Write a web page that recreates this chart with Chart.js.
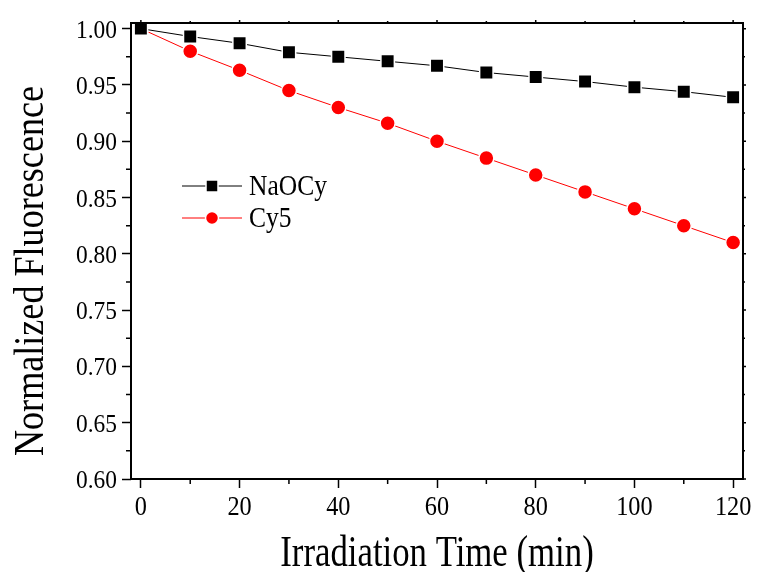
<!DOCTYPE html>
<html>
<head>
<meta charset="utf-8">
<script src="https://cdn.jsdelivr.net/npm/chart.js@4"></script>
<style>
  body { margin: 0; background: #fff; }
  #wrap { width: 758px; height: 572px; }
</style>
</head>
<body>
<div id="wrap"><canvas id="grafico" width="758" height="572"></canvas></div>
<script>
// irradiation time (min)
const tempos = [0, 10, 20, 30, 40, 50, 60, 70, 80, 90, 100, 110, 120];
// normalized fluorescence
const naocy = [1.000, 0.993, 0.987, 0.979, 0.975, 0.971, 0.967, 0.961, 0.957, 0.953, 0.948, 0.944, 0.939];
const cy5 = [1.000, 0.980, 0.963, 0.945, 0.930, 0.916, 0.900, 0.885, 0.870, 0.855, 0.840, 0.825, 0.810];
const xTicks = [0, 20, 40, 60, 80, 100, 120];
const xMinor = [10, 30, 50, 70, 90, 110];
const yTicks = [0.60, 0.65, 0.70, 0.75, 0.80, 0.85, 0.90, 0.95, 1.00];
const yMinor = [0.625, 0.675, 0.725, 0.775, 0.825, 0.875, 0.925, 0.975];
const tituloX = 'Irradiation Time (min)';
const tituloY = 'Normalized Fluorescence';

const serif = "'Liberation Serif', 'Times New Roman', serif";

// texto estreito (fonte do original e condensada)
const texto = (ctx, str, x, y, size, sx, align, rot) => {
  ctx.save();
  ctx.translate(x, y);
  if (rot) ctx.rotate(rot);
  ctx.scale(sx, 1);
  ctx.font = size + 'px ' + serif;
  ctx.fillStyle = '#000';
  ctx.textAlign = align;
  ctx.textBaseline = 'alphabetic';
  ctx.fillText(str, 0, 0);
  ctx.restore();
};

// moldura, ticks menores, rotulos e titulos
const molduraPlugin = {
  id: 'moldura',
  afterDraw(chart) {
    const { ctx, chartArea: a, scales } = chart;
    ctx.save();
    ctx.strokeStyle = '#000';
    ctx.lineWidth = 2;
    ctx.strokeRect(a.left, a.top, a.right - a.left, a.bottom - a.top);
    ctx.lineWidth = 1.5;
    ctx.beginPath();
    xMinor.forEach(v => {
      const px = scales.x.getPixelForValue(v);
      ctx.moveTo(px, a.bottom); ctx.lineTo(px, a.bottom + 5);
      ctx.moveTo(px, a.top); ctx.lineTo(px, a.top - 2);
    });
    xTicks.forEach(v => {
      const px = scales.x.getPixelForValue(v);
      ctx.moveTo(px, a.top); ctx.lineTo(px, a.top - 3);
    });
    yMinor.forEach(v => {
      const py = scales.y.getPixelForValue(v);
      ctx.moveTo(a.left, py); ctx.lineTo(a.left - 5, py);
      ctx.moveTo(a.right, py); ctx.lineTo(a.right + 2, py);
    });
    yTicks.forEach(v => {
      const py = scales.y.getPixelForValue(v);
      ctx.moveTo(a.right, py); ctx.lineTo(a.right + 3, py);
    });
    ctx.stroke();
    ctx.restore();

    xTicks.forEach(v => {
      texto(ctx, String(v), scales.x.getPixelForValue(v), a.bottom + 36, 27, 0.9, 'center');
    });
    yTicks.forEach(v => {
      texto(ctx, v.toFixed(2), a.left - 14, scales.y.getPixelForValue(v) + 9, 26, 0.9, 'right');
    });
    texto(ctx, tituloX, (a.left + a.right) / 2, 566, 44, 0.79, 'center');
    texto(ctx, tituloY, 43, 271, 42, 0.86, 'center', -Math.PI / 2);
  }
};

// legenda dentro da area do grafico
const legendaPlugin = {
  id: 'legendaInterna',
  afterDatasetsDraw(chart) {
    const { ctx } = chart;
    const linhas = [186, 218];
    const bases = [195, 227];
    ctx.save();
    chart.data.datasets.forEach((ds, i) => {
      const y = linhas[i];
      ctx.strokeStyle = ds.borderColor;
      ctx.lineWidth = 1;
      ctx.beginPath();
      ctx.moveTo(182, y); ctx.lineTo(242, y);
      ctx.stroke();
      ctx.fillStyle = ds.pointBackgroundColor;
      ctx.strokeStyle = '#fff';
      ctx.lineWidth = 1.5;
      ctx.beginPath();
      if (ds.pointStyle === 'rect') ctx.rect(212 - 6, y - 6, 12, 12);
      else ctx.arc(212, y, 6.5, 0, Math.PI * 2);
      ctx.fill(); ctx.stroke();
      texto(ctx, ds.label, 249, bases[i], 30, 0.85, 'left');
    });
    ctx.restore();
  }
};

const dados = {
  datasets: [
    {
      label: 'NaOCy',
      data: tempos.map((t, i) => ({ x: t, y: naocy[i] })),
      borderColor: '#000',
      borderWidth: 1,
      pointStyle: 'rect',
      pointRadius: 9.5,
      pointBackgroundColor: '#000',
      pointBorderColor: '#fff',
      pointBorderWidth: 1.5,
    },
    {
      label: 'Cy5',
      data: tempos.map((t, i) => ({ x: t, y: cy5[i] })),
      borderColor: '#ff0000',
      borderWidth: 1,
      pointStyle: 'circle',
      pointRadius: 7.5,
      pointBackgroundColor: '#ff0000',
      pointBorderColor: '#fff',
      pointBorderWidth: 1.5,
    }
  ]
};

const canvas = document.getElementById('grafico');
new Chart(canvas, {
  type: 'scatter',
  data: dados,
  options: {
    responsive: false,
    animation: false,
    showLine: true,
    clip: false,
    layout: { padding: { left: 0, top: 23, right: 15, bottom: 0 } },
    plugins: { legend: { display: false }, tooltip: { enabled: false } },
    scales: {
      x: {
        type: 'linear',
        min: -2,
        max: 122,
        afterFit: (s) => { s.height = 93; },
        afterBuildTicks: (s) => { s.ticks = xTicks.map(v => ({ value: v })); },
        ticks: { display: false },
        grid: { drawOnChartArea: false, drawTicks: true, tickLength: 9, tickWidth: 1.5, tickColor: '#000' },
        border: { display: false }
      },
      y: {
        type: 'linear',
        min: 0.60,
        max: 1.005,
        afterFit: (s) => { s.width = 131; },
        afterBuildTicks: (s) => { s.ticks = yTicks.map(v => ({ value: v })); },
        ticks: { display: false },
        grid: { drawOnChartArea: false, drawTicks: true, tickLength: 9, tickWidth: 1.5, tickColor: '#000' },
        border: { display: false }
      }
    }
  },
  plugins: [molduraPlugin, legendaPlugin]
});
</script>
</body>
</html>
